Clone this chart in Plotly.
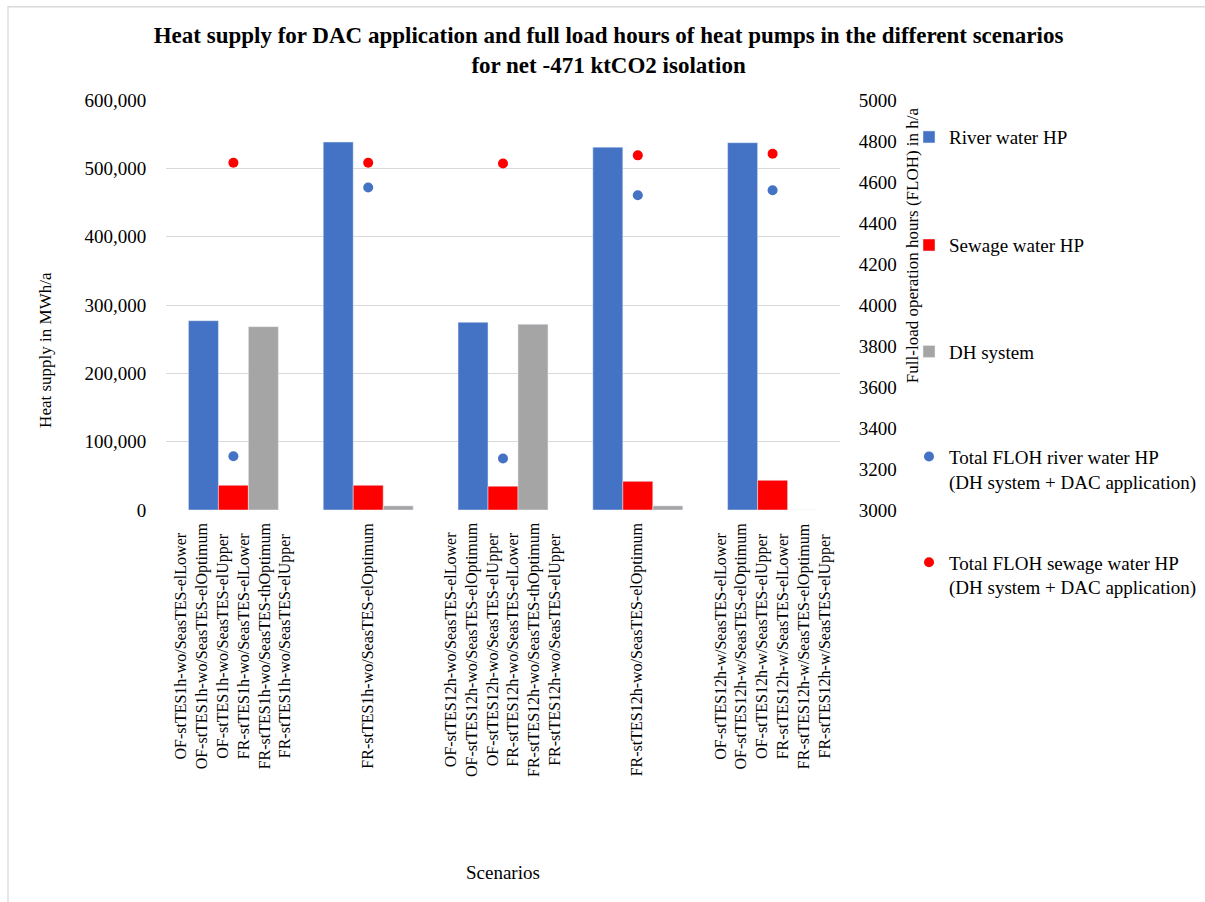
import plotly.graph_objects as go

# Scenario groups on the category axis (multi-line labels)
categories = [
    "OF-stTES1h-wo/SeasTES-elLower<br>OF-stTES1h-wo/SeasTES-elOptimum<br>OF-stTES1h-wo/SeasTES-elUpper<br>"
    "FR-stTES1h-wo/SeasTES-elLower<br>FR-stTES1h-wo/SeasTES-thOptimum<br>FR-stTES1h-wo/SeasTES-elUpper",
    "FR-stTES1h-wo/SeasTES-elOptimum",
    "OF-stTES12h-wo/SeasTES-elLower<br>OF-stTES12h-wo/SeasTES-elOptimum<br>OF-stTES12h-wo/SeasTES-elUpper<br>"
    "FR-stTES12h-wo/SeasTES-elLower<br>FR-stTES12h-wo/SeasTES-thOptimum<br>FR-stTES12h-wo/SeasTES-elUpper",
    "FR-stTES12h-wo/SeasTES-elOptimum",
    "OF-stTES12h-w/SeasTES-elLower<br>OF-stTES12h-w/SeasTES-elOptimum<br>OF-stTES12h-w/SeasTES-elUpper<br>"
    "FR-stTES12h-w/SeasTES-elLower<br>FR-stTES12h-w/SeasTES-elOptimum<br>FR-stTES12h-w/SeasTES-elUpper",
]

# Heat supply in MWh/a
river_water_hp = [277000, 538500, 274700, 531000, 537500]
sewage_water_hp = [36200, 36200, 34800, 42000, 43500]
dh_system = [268300, 6000, 271800, 6000, 0]

# Full-load operation hours in h/a
floh_river = [3262, 4573, 3251, 4535, 4560]
floh_sewage = [4694, 4694, 4690, 4730, 4738]

left_ticks = [0, 100000, 200000, 300000, 400000, 500000, 600000]
right_ticks = [3000, 3200, 3400, 3600, 3800, 4000, 4200, 4400, 4600, 4800, 5000]

SERIF = "Liberation Serif"
BLUE = "#4472C4"
RED = "#FF0000"
GREY = "#A5A5A5"

fig = go.Figure()
fig.add_trace(go.Bar(name="River water HP", x=categories, y=river_water_hp,
                     marker_color=BLUE, legend="legend"))
fig.add_trace(go.Bar(name="Sewage water HP", x=categories, y=sewage_water_hp,
                     marker_color=RED, legend="legend2"))
fig.add_trace(go.Bar(name="DH system", x=categories, y=dh_system,
                     marker_color=GREY, legend="legend3"))
fig.add_trace(go.Scatter(name="Total FLOH river water HP<br>(DH system + DAC application)",
                         x=categories, y=floh_river, yaxis="y2", mode="markers",
                         marker=dict(color=BLUE, size=10), legend="legend4"))
fig.add_trace(go.Scatter(name="Total FLOH sewage water HP<br>(DH system + DAC application)",
                         x=categories, y=floh_sewage, yaxis="y2", mode="markers",
                         marker=dict(color=RED, size=10), legend="legend5"))

L, R, T, B = 166, 365, 99.5, 391.5
W, H = 1205, 902
PW, PH = W - L - R, H - T - B


def px_x(px):
    return (px - L) / PW


def px_y(py):
    return (H - B - py) / PH


legend_common = dict(font=dict(family=SERIF, size=19, color="#000000"),
                     bgcolor="rgba(0,0,0,0)", xanchor="left", yanchor="middle",
                     valign="top", x=px_x(909))

fig.update_layout(
    width=W, height=H,
    margin=dict(l=L, r=R, t=T, b=B, autoexpand=False),
    paper_bgcolor="white", plot_bgcolor="white",
    barmode="group", bargap=0.333, bargroupgap=0,
    font=dict(family=SERIF, color="#000000"),
    title=dict(text="Heat supply for DAC application and full load hours of heat pumps in the different scenarios"
                    "<br>for net -471 ktCO2 isolation",
               font=dict(family=SERIF, size=23, weight="bold", color="#000000"),
               x=0.505, xanchor="center", y=1 - 43 / H, yanchor="middle"),
    xaxis=dict(type="category", showticklabels=False,
               showgrid=False, showline=False, zeroline=False, automargin=False),
    yaxis=dict(range=[0, 600000], tickvals=left_ticks, tickformat=",",
               tickfont=dict(family=SERIF, size=19),
               showgrid=True, gridcolor="#D9D9D9", gridwidth=1.3, zeroline=False,
               ticks="outside", ticklen=15, tickcolor="rgba(0,0,0,0)", automargin=False),
    yaxis2=dict(range=[3000, 5000], tickvals=right_ticks, tickformat="d",
                overlaying="y", side="right", showgrid=False, zeroline=False,
                tickfont=dict(family=SERIF, size=19),
                ticks="outside", ticklen=14, tickcolor="rgba(0,0,0,0)", automargin=False),
    legend=dict(y=px_y(136.7), **legend_common),
    legend2=dict(y=px_y(245), **legend_common),
    legend3=dict(y=px_y(351.7), **legend_common),
    legend4=dict(y=px_y(469.5), **legend_common),
    legend5=dict(y=px_y(575.5), **legend_common),
    showlegend=True,
)

# Scenario labels under each category, lines centred on one another
for i, label in enumerate(categories):
    fig.add_annotation(text=label, xref="x", yref="paper", x=i, y=px_y(521),
                       xanchor="center", yanchor="top", textangle=-90, align="center",
                       showarrow=False, font=dict(family=SERIF, size=16))

# Axis titles
fig.add_annotation(text="Heat supply in MWh/a", xref="paper", yref="paper",
                   x=px_x(46), y=px_y(350), xanchor="center", yanchor="middle",
                   textangle=-90, showarrow=False, font=dict(family=SERIF, size=17))
fig.add_annotation(text="Full-load operation hours (FLOH) in h/a", xref="paper", yref="paper",
                   x=px_x(912), y=px_y(245), xanchor="center", yanchor="middle",
                   textangle=-90, showarrow=False, font=dict(family=SERIF, size=17))
fig.add_annotation(text="Scenarios", xref="paper", yref="paper",
                   x=px_x(503), y=px_y(873.5), xanchor="center", yanchor="middle",
                   showarrow=False, font=dict(family=SERIF, size=19))

# Chart area frame
fig.add_shape(type="rect", xref="paper", yref="paper",
              x0=px_x(8), x1=px_x(1215), y0=px_y(915), y1=px_y(6),
              line=dict(color="#D9D9D9", width=1.3), layer="below")

fig.write_html("out.html")
